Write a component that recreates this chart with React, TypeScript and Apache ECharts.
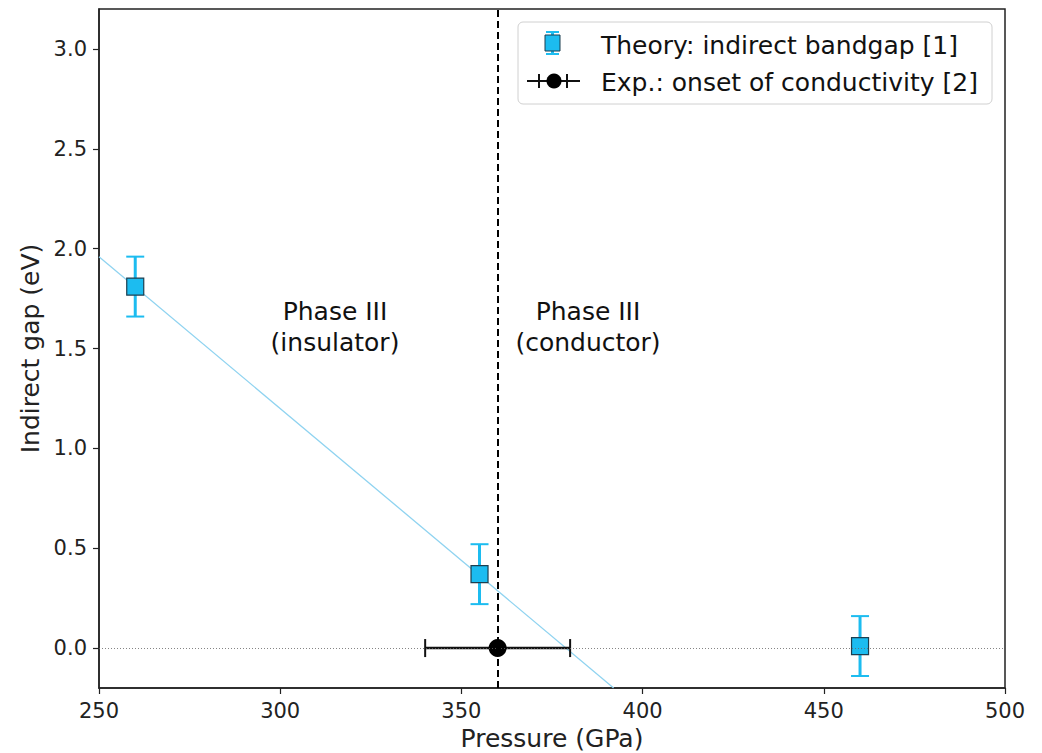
import React, { useEffect, useRef } from "react";
import * as echarts from "echarts";

// Theory: indirect bandgap [1]
const theoryPressure = [260, 355, 460];
const theoryGap = [1.81, 0.37, 0.01];
const theoryErr = [0.15, 0.15, 0.15];

// Exp.: onset of conductivity [2]
const expPressure = [360];
const expGap = [0.0];
const expPressureErr = [20];

// linear fit of theory
const fitPressure = [250, 392];
const fitGap = [1.96, -0.2];

const transitionPressure = 360;

const yTicks = [0, 0.5, 1.0, 1.5, 2.0, 2.5, 3.0];

const FONT = "DejaVu Sans";
const CYAN = "#1cbcf0";
const CYAN_BAR = "#1cbcf0";

export default function App() {
  const ref = useRef<HTMLDivElement>(null);
  useEffect(() => {
    if (!ref.current) return;
    const chart = echarts.init(ref.current, undefined, { renderer: "svg" });

    const theoryData = theoryPressure.map((p, i) => [p, theoryGap[i], theoryErr[i]]);
    const expData = expPressure.map((p, i) => [p, expGap[i], expPressureErr[i]]);
    const fitData = fitPressure.map((p, i) => [p, fitGap[i]]);

    const option: any = {
      animation: false,
      backgroundColor: "#fff",
      grid: {
        left: 99,
        top: 9,
        right: 37,
        bottom: 65,
        outerBoundsMode: "none",
        containLabel: false,
        show: true,
        borderColor: "#222",
        borderWidth: 1.5,
        backgroundColor: "transparent",
      },
      xAxis: {
        type: "value",
        min: 250,
        max: 500,
        interval: 50,
        name: "Pressure (GPa)",
        nameLocation: "middle",
        nameGap: 36,
        nameTextStyle: { fontFamily: FONT, fontSize: 25, color: "#222" },
        axisLine: { show: true, onZero: false, lineStyle: { color: "#222", width: 1.5 } },
        axisTick: { show: true, inside: false, length: 6, lineStyle: { color: "#222", width: 1.2 } },
        axisLabel: { fontFamily: FONT, fontSize: 21, color: "#222", margin: 12 },
        splitLine: { show: false },
      },
      yAxis: {
        type: "value",
        min: -0.2,
        max: 3.2,
        name: "Indirect gap (eV)",
        nameLocation: "middle",
        nameGap: 54,
        nameRotate: 90,
        nameTextStyle: { fontFamily: FONT, fontSize: 25, color: "#222" },
        axisLine: { show: true, onZero: false, lineStyle: { color: "#222", width: 1.5 } },
        axisTick: {
          show: true,
          length: 6,
          customValues: yTicks,
          lineStyle: { color: "#222", width: 1.2 },
        },
        axisLabel: {
          fontFamily: FONT,
          fontSize: 21,
          color: "#222",
          margin: 12,
          customValues: yTicks,
          formatter: (v: number) => v.toFixed(1),
        },
        splitLine: { show: false },
      },
      series: [
        {
          name: "fit",
          type: "line",
          data: fitData,
          symbol: "none",
          lineStyle: { color: "#8fd3f0", width: 1.3 },
          z: 2,
          markLine: {
            silent: true,
            symbol: "none",
            label: { show: false },
            data: [
              { yAxis: 0, lineStyle: { color: "#666", width: 0.8, type: [1, 2] } },
              { xAxis: transitionPressure, lineStyle: { color: "#000", width: 2, type: [7, 4] } },
            ],
          },
        },
        {
          name: "theoryErr",
          type: "custom",
          data: theoryData,
          z: 3,
          renderItem: (params: any, api: any) => {
            const x = api.value(0);
            const y = api.value(1);
            const e = api.value(2);
            const top = api.coord([x, y + e]);
            const bot = api.coord([x, y - e]);
            const cw = 9;
            return {
              type: "group",
              children: [
                { type: "line", shape: { x1: top[0], y1: top[1], x2: bot[0], y2: bot[1] }, style: { stroke: CYAN_BAR, lineWidth: 3 } },
                { type: "line", shape: { x1: top[0] - cw, y1: top[1], x2: top[0] + cw, y2: top[1] }, style: { stroke: CYAN_BAR, lineWidth: 2 } },
                { type: "line", shape: { x1: bot[0] - cw, y1: bot[1], x2: bot[0] + cw, y2: bot[1] }, style: { stroke: CYAN_BAR, lineWidth: 2 } },
              ],
            };
          },
        },
        {
          name: "theory",
          type: "scatter",
          data: theoryData.map((d) => [d[0], d[1]]),
          symbol: "rect",
          symbolSize: 17,
          itemStyle: { color: CYAN, borderColor: "#1c3f50", borderWidth: 1.2, opacity: 1 },
          z: 4,
        },
        {
          name: "expErr",
          type: "custom",
          data: expData,
          z: 3,
          renderItem: (params: any, api: any) => {
            const x = api.value(0);
            const y = api.value(1);
            const e = api.value(2);
            const l = api.coord([x - e, y]);
            const r = api.coord([x + e, y]);
            const ch = 9;
            return {
              type: "group",
              children: [
                { type: "line", shape: { x1: l[0], y1: l[1], x2: r[0], y2: r[1] }, style: { stroke: "#111", lineWidth: 2.5 } },
                { type: "line", shape: { x1: l[0], y1: l[1] - ch, x2: l[0], y2: l[1] + ch }, style: { stroke: "#111", lineWidth: 2 } },
                { type: "line", shape: { x1: r[0], y1: r[1] - ch, x2: r[0], y2: r[1] + ch }, style: { stroke: "#111", lineWidth: 2 } },
              ],
            };
          },
        },
        {
          name: "exp",
          type: "scatter",
          data: expData.map((d) => [d[0], d[1]]),
          symbol: "circle",
          symbolSize: 18,
          itemStyle: { color: "#000", opacity: 1 },
          z: 4,
        },
      ],
      graphic: [
        {
          type: "text",
          x: 335,
          y: 296,
          style: {
            text: "Phase III\n(insulator)",
            font: `25px '${FONT}'`,
            fill: "#111",
            align: "center",
            verticalAlign: "top",
            lineHeight: 31,
          },
        },
        {
          type: "text",
          x: 588,
          y: 296,
          style: {
            text: "Phase III\n(conductor)",
            font: `25px '${FONT}'`,
            fill: "#111",
            align: "center",
            verticalAlign: "top",
            lineHeight: 31,
          },
        },
        // legend box
        {
          type: "rect",
          shape: { x: 518, y: 22, width: 474, height: 82, r: 5 },
          style: { fill: "rgba(255,255,255,0.85)", stroke: "#d0d0d0", lineWidth: 1 },
          z: 10,
        },
        // theory legend icon
        { type: "line", shape: { x1: 552.5, y1: 32, x2: 552.5, y2: 54 }, style: { stroke: CYAN_BAR, lineWidth: 3 }, z: 11 },
        { type: "line", shape: { x1: 546, y1: 32, x2: 559, y2: 32 }, style: { stroke: CYAN_BAR, lineWidth: 2 }, z: 11 },
        { type: "line", shape: { x1: 546, y1: 54, x2: 559, y2: 54 }, style: { stroke: CYAN_BAR, lineWidth: 2 }, z: 11 },
        { type: "rect", shape: { x: 545, y: 35, width: 15, height: 16 }, style: { fill: CYAN, stroke: "#1c3f50", lineWidth: 1 }, z: 12 },
        {
          type: "text",
          x: 601,
          y: 45,
          style: { text: "Theory: indirect bandgap [1]", font: `25px '${FONT}'`, fill: "#111", verticalAlign: "middle" },
          z: 12,
        },
        // exp legend icon
        { type: "line", shape: { x1: 527, y1: 81, x2: 580, y2: 81 }, style: { stroke: "#111", lineWidth: 2 }, z: 11 },
        { type: "line", shape: { x1: 539, y1: 74, x2: 539, y2: 88 }, style: { stroke: "#111", lineWidth: 2 }, z: 11 },
        { type: "line", shape: { x1: 567, y1: 74, x2: 567, y2: 88 }, style: { stroke: "#111", lineWidth: 2 }, z: 11 },
        { type: "circle", shape: { cx: 554, cy: 81, r: 7.5 }, style: { fill: "#000" }, z: 12 },
        {
          type: "text",
          x: 601,
          y: 82,
          style: { text: "Exp.: onset of conductivity [2]", font: `25px '${FONT}'`, fill: "#111", verticalAlign: "middle" },
          z: 12,
        },
      ],
    };
    chart.setOption(option);
    return () => chart.dispose();
  }, []);
  return (
    <div
      ref={ref}
      style={{ position: "fixed", left: 0, top: 0, width: 1042, height: 753, background: "#fff" }}
    />
  );
}
